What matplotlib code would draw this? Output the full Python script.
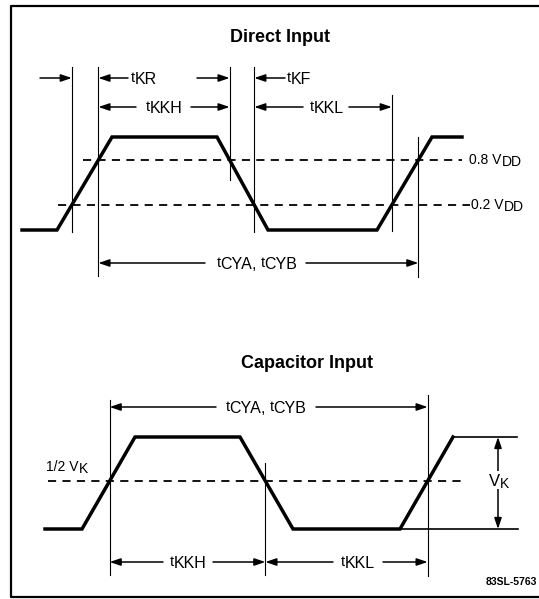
import numpy as np
import matplotlib
matplotlib.use("Agg")
import matplotlib.pyplot as plt

plt.rcParams['font.family'] = ['Liberation Sans', 'DejaVu Sans']

# waveform vertices (x = time, y = level), drawing units = pixels of the sheet
direct_t = [22, 57, 112, 217, 268, 377, 432, 462]
direct_v = [230, 230, 137, 137, 230, 230, 137, 137]
direct_thresholds = [160, 205]          # 0.8 VDD, 0.2 VDD
direct_labels = [('0.8 V', 'DD'), ('0.2 V', 'DD')]

cap_t = [45, 82, 135, 240, 293, 400, 453]
cap_v = [529, 529, 437, 437, 529, 529, 437]
cap_half = 481

fig = plt.figure(figsize=(5.39, 5.99), dpi=100)
ax = fig.add_axes([0, 0, 1, 1])
ax.set_xlim(0, 539)
ax.set_ylim(599, 0)
ax.axis('off')
renderer = fig.canvas.get_renderer()

# frame (open on the right)
ax.plot([539, 10.5, 10.5, 539], [6, 6, 597, 597], color='black', lw=1.6)

TH = 2.5   # waveform
TN = 0.8   # verticals


def compose(x, y, pieces, ha='left', **kw):
    # pieces: (string, fontsize, dy) or a float gap in pixels
    items = []
    for p in pieces:
        if isinstance(p, (int, float)):
            items.append((None, p))
            continue
        s, fs, dy = p
        tx = ax.text(0, y + dy, s, fontsize=fs, ha='left', va='baseline', **kw)
        items.append((tx, tx.get_window_extent(renderer).width))
    total = sum(w for _, w in items)
    start = x - total / 2 if ha == 'center' else (x - total if ha == 'right' else x)
    for tx, w in items:
        if tx is not None:
            tx.set_x(start)
        start += w


def tlabel(x, y, subs, ha='center'):
    pieces = []
    for i, s in enumerate(subs):
        if i:
            pieces.append((',', 11.5, 6))
            pieces.append(4.5)
        pieces.append(('t', 10.5, 4))
        pieces.append(-0.3)
        pieces.append((s, 11.5, 6))
    compose(x, y, pieces, ha=ha)


def arrow(x0, x1, y):
    # arrow from x0 pointing to x1
    ax.annotate('', xy=(x1, y), xytext=(x0, y),
                arrowprops=dict(arrowstyle='-|>,head_length=0.65,head_width=0.22',
                                color='black', lw=1.1, shrinkA=0, shrinkB=0,
                                mutation_scale=10))


def dim(y, xa, xb, subs, gap_l, gap_r, cx):
    arrow(gap_l, xa, y)
    arrow(gap_r, xb, y)
    tlabel(cx, y, subs)


# ---------- Direct Input ----------
ax.text(280, 38, 'Direct Input', ha='center', va='center', fontsize=13,
        fontweight='bold')
ax.plot(direct_t, direct_v, color='black', lw=TH, solid_joinstyle='miter')
ax.plot([83, 462], [direct_thresholds[0]] * 2, color='black', lw=1.3,
        ls=(0, (4.5, 3.5)))
ax.plot([58, 470], [direct_thresholds[1]] * 2, color='black', lw=1.3,
        ls=(0, (4.5, 3.5)))
for yv, (main, sub), x0 in zip(direct_thresholds, direct_labels, [469, 471]):
    compose(x0, yv + 4, [(main, 10, 0), 0.5, (sub, 10, 2)])

# edge crossings
rise1 = [np.interp(-v, [-230, -137], [57, 112]) for v in direct_thresholds]
fall1 = [np.interp(v, [137, 230], [217, 268]) for v in direct_thresholds]
rise2 = [np.interp(-v, [-230, -137], [377, 432]) for v in direct_thresholds]

ax.plot([rise1[1]] * 2, [67, 232], color='black', lw=TN)
ax.plot([rise1[0]] * 2, [67, 276], color='black', lw=TN)
ax.plot([fall1[0]] * 2, [67, 180], color='black', lw=TN)
ax.plot([fall1[1]] * 2, [67, 232], color='black', lw=TN)
ax.plot([rise2[1]] * 2, [95, 231], color='black', lw=TN)
ax.plot([rise2[0]] * 2, [137, 277], color='black', lw=TN)

# tKR / tKF row
arrow(40, rise1[1], 78)
arrow(128, rise1[0], 78)
tlabel(131, 78, ['KR'], ha='left')
arrow(197, fall1[0], 78)
arrow(285, fall1[1], 78)
tlabel(287, 78, ['KF'], ha='left')

# tKKH / tKKL row
dim(107, rise1[0], fall1[0], ['KKH'], 136, 191, 164)
dim(107, fall1[1], rise2[1], ['KKL'], 303, 349, 327)

# cycle row
dim(263, rise1[0], rise2[0], ['CYA', 'CYB'], 205, 306, 257)

# ---------- Capacitor Input ----------
ax.text(307, 363, 'Capacitor Input', ha='center', va='center', fontsize=13,
        fontweight='bold')
ax.plot(cap_t, cap_v, color='black', lw=TH, solid_joinstyle='miter')
ax.plot([453, 517], [437, 437], color='black', lw=1.2)
ax.plot([400, 518], [529, 529], color='black', lw=1.2)
ax.plot([48, 465], [cap_half] * 2, color='black', lw=1.3, ls=(0, (4.5, 3.5)))
compose(46, 471, [('1/2 V', 10, 0), 0.5, ('K', 10, 2)])

c_r1 = np.interp(-cap_half, [-529, -437], [82, 135])
c_f1 = np.interp(cap_half, [437, 529], [240, 293])
c_r2 = np.interp(-cap_half, [-529, -437], [400, 453])

ax.plot([c_r1] * 2, [400, 575], color='black', lw=TN)
ax.plot([c_f1] * 2, [463, 575], color='black', lw=TN)
ax.plot([c_r2] * 2, [395, 576], color='black', lw=TN)

dim(407, c_r1, c_r2, ['CYA', 'CYB'], 216, 316, 266)
dim(562, c_r1, c_f1, ['KKH'], 163, 213, 188)
dim(562, c_f1, c_r2, ['KKL'], 333, 383, 358)

# VK amplitude
ax.annotate('', xy=(498, 437), xytext=(498, 529),
            arrowprops=dict(arrowstyle='<|-|>,head_length=0.65,head_width=0.22',
                            color='black', lw=1.1, shrinkA=0, shrinkB=0,
                            mutation_scale=10))
ax.add_patch(plt.Rectangle((488, 471), 24, 18, facecolor='white',
                           edgecolor='none', zorder=3))
compose(499, 486, [('V', 12, 0), ('K', 10, 2)], ha='center', zorder=4)

ax.text(537, 582, '83SL-5763', ha='right', va='center', fontsize=7.5,
        fontweight='bold')

fig.savefig('out.png', dpi=100)
